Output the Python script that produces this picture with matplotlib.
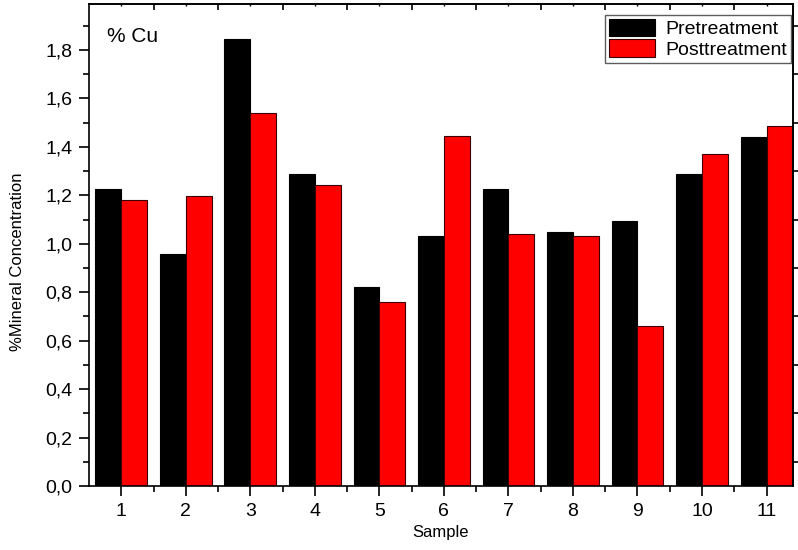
import matplotlib
matplotlib.use("Agg")
import matplotlib.pyplot as plt
import numpy as np

plt.rcParams['font.family'] = ['Liberation Sans', 'DejaVu Sans']

samples = [1, 2, 3, 4, 5, 6, 7, 8, 9, 10, 11]
pretreatment = [1.226, 0.959, 1.846, 1.287, 0.823, 1.032, 1.226, 1.049, 1.093, 1.287, 1.440]
posttreatment = [1.182, 1.196, 1.540, 1.244, 0.760, 1.445, 1.042, 1.033, 0.659, 1.371, 1.488]
ytick_labels = ['0,0', '0,2', '0,4', '0,6', '0,8', '1,0', '1,2', '1,4', '1,6', '1,8']

fig = plt.figure(figsize=(7.98, 5.5), dpi=100)
ax = fig.add_axes([0.1115, 0.1164, 0.8822, 0.8763])

x = np.array(samples)
w = 0.4
ax.bar(x - w / 2, pretreatment, width=w, color='black', edgecolor='black',
       linewidth=0.8, label='Pretreatment')
ax.bar(x + w / 2, posttreatment, width=w, color='#ff0000', edgecolor='#3a0000',
       linewidth=0.8, label='Posttreatment')

ax.set_xlim(0.5, 11.41)
ax.set_ylim(0, 1.99)

ax.set_xticks(samples)
ax.set_xticklabels([str(s) for s in samples], fontsize=14)
ax.set_xticks(np.arange(1.5, 11.5, 1.0), minor=True)
ax.set_yticks(np.arange(0, 1.81, 0.2))
ax.set_yticklabels(ytick_labels, fontsize=14)
ax.set_yticks(np.arange(0.1, 1.95, 0.2), minor=True)

for s in ax.spines.values():
    s.set_linewidth(1.2)

ax.tick_params(axis='both', which='major', direction='out', length=7.5, width=1.2, pad=4.5)
ax.tick_params(axis='both', which='minor', direction='out', length=4, width=1.2)
ax.tick_params(top=False, right=False, which='both')

# extra ticks on the top and right frames
top = ax.secondary_xaxis('top')
top.set_xticks(np.arange(1.5, 11.5, 1.0))
top.set_xticks(samples, minor=True)
top.tick_params(which='major', direction='in', length=4, width=1.2, labeltop=False)
top.tick_params(which='minor', direction='in', length=1.5, width=1.0)
top.spines['top'].set_linewidth(1.2)

right = ax.secondary_yaxis('right')
right.set_yticks(np.arange(0.1, 1.95, 0.2))
right.tick_params(which='major', direction='out', length=4, width=1.2, labelright=False)
right.spines['right'].set_linewidth(1.2)

ax.set_xlabel('Sample', fontsize=12, labelpad=4)
ax.set_ylabel('%Mineral Concentration', fontsize=12)
ax.yaxis.set_label_coords(-0.091, 0.465)

ax.text(0.026, 0.932, '% Cu', transform=ax.transAxes, fontsize=15, va='center', ha='left')

leg = ax.legend(loc='upper right', bbox_to_anchor=(0.997, 0.977), borderaxespad=0,
                fontsize=14, fancybox=False, frameon=True, edgecolor='#333333',
                handlelength=2.4, handleheight=1.0, handletextpad=0.5,
                labelspacing=0.05, borderpad=0.2)
leg.get_frame().set_linewidth(1.0)

fig.savefig('out.png', dpi=100)
